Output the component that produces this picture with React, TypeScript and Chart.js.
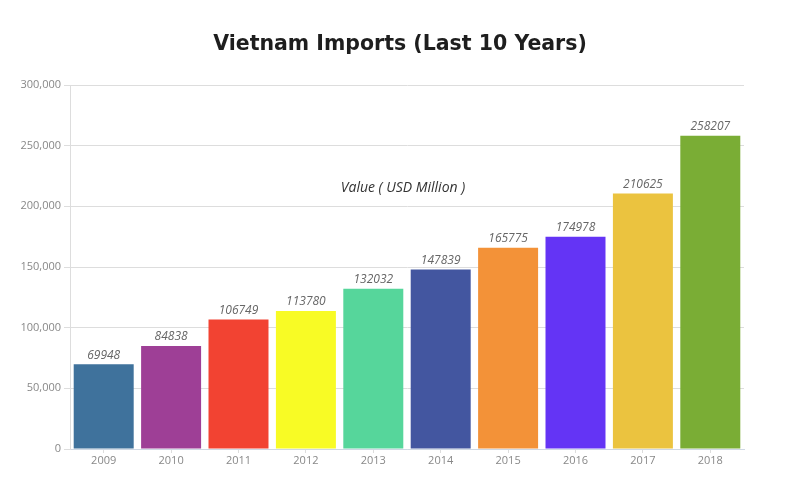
import React, { useEffect, useRef } from "react";
import { Chart, registerables } from "chart.js";

Chart.register(...registerables);

const years = ["2009", "2010", "2011", "2012", "2013", "2014", "2015", "2016", "2017", "2018"];
const importValues = [69948, 84838, 106749, 113780, 132032, 147839, 165775, 174978, 210625, 258207];
const barColors = [
  "#3f729c",
  "#9e3f96",
  "#f24332",
  "#f8fb25",
  "#56d69b",
  "#4356a0",
  "#f39238",
  "#6434f5",
  "#ebc33f",
  "#7aad35",
];
const chartTitle = "Vietnam Imports (Last 10 Years)";
const valueCaption = "Value ( USD Million )";

const labelPlugin = {
  id: "labelPlugin",
  afterDatasetsDraw(chart: any) {
    const ctx = chart.ctx;
    const meta = chart.getDatasetMeta(0);
    ctx.save();
    ctx.font = "italic 12px 'Open Sans', sans-serif";
    ctx.fillStyle = "#666";
    ctx.textAlign = "center";
    ctx.textBaseline = "bottom";
    meta.data.forEach((bar: any, i: number) => {
      ctx.fillText(String(importValues[i]), bar.x, bar.y - 3);
    });
    const area = chart.chartArea;
    ctx.font = "italic 14px 'Open Sans', sans-serif";
    ctx.fillStyle = "#333";
    ctx.textBaseline = "middle";
    ctx.fillText(valueCaption, (area.left + area.right) / 2 - 4, area.top + 103);
    ctx.font = "bold 20.5px 'DejaVu Sans', sans-serif";
    ctx.fillStyle = "#1e1e1e";
    ctx.fillText(chartTitle, chart.width / 2, 45);
    ctx.restore();
  },
};

export default function App() {
  const canvasRef = useRef<HTMLCanvasElement>(null);
  useEffect(() => {
    if (!canvasRef.current) return;
    const chart = new Chart(canvasRef.current, {
      type: "bar",
      data: {
        labels: years,
        datasets: [
          {
            data: importValues,
            backgroundColor: barColors,
            borderWidth: 0,
            barPercentage: 0.89,
            categoryPercentage: 1,
          },
        ],
      },
      options: {
        animation: false,
        responsive: true,
        maintainAspectRatio: false,
        layout: { padding: { top: 85, right: 56, bottom: 0, left: 0 } },
        plugins: {
          legend: { display: false },
          tooltip: { enabled: false },
          title: { display: false },
        },
        scales: {
          x: {
            grid: { display: true, drawOnChartArea: false, offset: false, tickLength: 4, color: "#dddddd" },
            border: { display: true, color: "#cfd8e3" },
            ticks: { color: "#888", font: { family: "'Open Sans', sans-serif", size: 11 }, padding: 1 },
            afterFit: (scale: any) => {
              scale.height = 51;
            },
          },
          y: {
            min: 0,
            max: 300000,
            grid: { color: "#dddddd", tickLength: 6 },
            border: { display: true, color: "#dddddd" },
            ticks: {
              stepSize: 50000,
              color: "#888",
              padding: 3,
              font: { family: "'Open Sans', sans-serif", size: 11 },
              callback: (v: any) => Number(v).toLocaleString("en-US"),
            },
            afterFit: (scale: any) => {
              scale.width = 70;
            },
          },
        },
      },
      plugins: [labelPlugin],
    });
    return () => chart.destroy();
  }, []);
  return (
    <div style={{ position: "fixed", left: 0, top: 0, width: 800, height: 500, background: "#fff" }}>
      <canvas ref={canvasRef} />
    </div>
  );
}
